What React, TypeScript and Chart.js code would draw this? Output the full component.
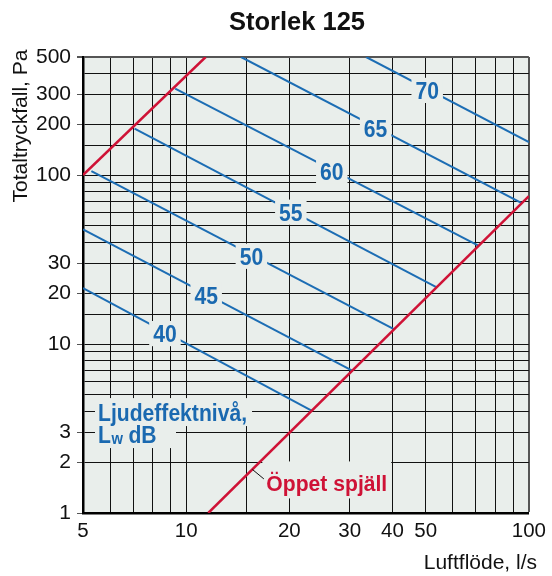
import React, { useEffect, useRef } from "react";
import { Chart, registerables } from "chart.js";
Chart.register(...registerables);

// Sound power level lines (Lw dB): start and end points (flow l/s, pressure Pa)
const levels = [40, 45, 50, 55, 60, 65, 70];
const startFlow = [5, 5, 5.29, 7.07, 9.29, 14.46, 33.5];
const startPressure = [21.4, 47.7, 105.5, 188.6, 325, 500, 500];
const endFlow = [23.3, 30.5, 40.5, 53.5, 71.2, 95, 100];
const endPressure = [4.02, 6.96, 12.2, 21.8, 38.2, 68.5, 157];
const labelFlow = [8.67, 11.44, 15.5, 20.2, 26.6, 35.7, 50.5];

// Damper limit lines
const maxFlow = [5, 11.4];
const maxPressure = [100, 500];
const openFlow = [11.6, 100];
const openPressure = [1, 75];

const xTickLabels = [5, 10, 20, 30, 40, 50, 100];
const yTickLabels = [1, 2, 3, 10, 20, 30, 100, 200, 300, 500];

const TITLE = "Storlek 125";
const X_TITLE = "Luftflöde, l/s";
const Y_TITLE = "Totaltryckfall, Pa";
const LW_LINE1 = "Ljudeffektnivå,";
const OPEN_LABEL = "Öppet spjäll";

const FONT = '"Liberation Sans", Arial, Helvetica, sans-serif';
const BLUE = "#1c6db4";
const BLUE_TEXT = "#1a69b0";
const RED = "#cf1236";
const PLOT_BG = "#e9eeeb";

const isIn = (arr: number[], v: number) => arr.some((t) => Math.abs(t - v) < 1e-6);

function interpLog(x0: number, y0: number, x1: number, y1: number, x: number) {
  const t = Math.log(x / x0) / Math.log(x1 / x0);
  return Math.exp(Math.log(y0) + t * Math.log(y1 / y0));
}

function drawText(
  ctx: CanvasRenderingContext2D,
  text: string,
  x: number,
  y: number,
  font: string,
  color: string,
  align: CanvasTextAlign,
  scaleX = 1
) {
  ctx.save();
  ctx.font = font;
  ctx.fillStyle = color;
  ctx.textAlign = align;
  ctx.textBaseline = "alphabetic";
  ctx.translate(x, y);
  ctx.scale(scaleX, 1);
  ctx.fillText(text, 0, 0);
  ctx.restore();
}

const bgPlugin = {
  id: "bgPlugin",
  beforeDraw(chart: any) {
    const { ctx, chartArea: a } = chart;
    ctx.save();
    ctx.fillStyle = "#ffffff";
    ctx.fillRect(0, 0, chart.width, chart.height);
    ctx.fillStyle = PLOT_BG;
    ctx.fillRect(a.left, a.top, a.right - a.left, a.bottom - a.top);
    ctx.restore();
  },
};

const annPlugin = {
  id: "annPlugin",
  afterDraw(chart: any) {
    const { ctx } = chart;
    const xs = chart.scales.x;
    const ys = chart.scales.y;

    // Level labels
    const numFont = `bold 24px ${FONT}`;
    const sx = 0.88;
    const cap = 17.2;
    levels.forEach((lv, i) => {
      const f = labelFlow[i];
      const p = interpLog(startFlow[i], startPressure[i], endFlow[i], endPressure[i], f);
      const px = xs.getPixelForValue(f);
      const py = ys.getPixelForValue(p) + 1.5;
      ctx.save();
      ctx.font = numFont;
      const w = ctx.measureText(String(lv)).width * sx;
      ctx.fillStyle = PLOT_BG;
      ctx.fillRect(px - w / 2 - 4, py - cap / 2 - 4, w + 8, cap + 8);
      ctx.restore();
      drawText(ctx, String(lv), px, py + cap / 2, numFont, BLUE_TEXT, "center", sx);
    });

    // Ljudeffektnivå label
    const lx = xs.getPixelForValue(5.53);
    const lb = ys.getPixelForValue(3.5);
    ctx.save();
    ctx.font = numFont;
    const w1 = ctx.measureText(LW_LINE1).width * sx;
    ctx.fillStyle = PLOT_BG;
    ctx.fillRect(lx - 3, lb - 23, w1 + 8, 28);
    ctx.fillRect(lx - 3, lb + 4, 81, 23);
    ctx.restore();
    drawText(ctx, LW_LINE1, lx, lb, numFont, BLUE_TEXT, "left", sx);
    const lb2 = lb + 21.5;
    drawText(ctx, "L", lx, lb2, numFont, BLUE_TEXT, "left", sx);
    ctx.save();
    ctx.font = numFont;
    const wL = ctx.measureText("L").width * sx;
    ctx.restore();
    drawText(ctx, "w", lx + wL + 0.5, lb2 + 1, `bold 16px ${FONT}`, BLUE_TEXT, "left", 0.92);
    drawText(ctx, "dB", lx + wL + 17.5, lb2, numFont, BLUE_TEXT, "left", sx);

    // Öppet spjäll label with leader
    const af = 15.6;
    const ap = interpLog(openFlow[0], openPressure[0], openFlow[1], openPressure[1], af);
    const ax = xs.getPixelForValue(af);
    const ay = ys.getPixelForValue(ap);
    const oFont = `bold 22px ${FONT}`;
    ctx.save();
    ctx.font = oFont;
    const wo = ctx.measureText(OPEN_LABEL).width * 0.96;
    ctx.fillStyle = PLOT_BG;
    ctx.fillRect(ax + 10, ay - 8, wo + 8, 37);
    ctx.strokeStyle = "#111";
    ctx.lineWidth = 1;
    ctx.beginPath();
    ctx.moveTo(ax, ay);
    ctx.lineTo(ax + 11.5, ay + 9.5);
    ctx.stroke();
    ctx.restore();
    drawText(ctx, OPEN_LABEL, ax + 14, ay + 22, oFont, RED, "left", 0.96);

    // Title
    drawText(ctx, TITLE, 297, 29.5, `bold 25.5px ${FONT}`, "#111", "center");

    // X axis title
    drawText(ctx, X_TITLE, 537, 568.5, `21px ${FONT}`, "#111", "right");

    // Y axis title
    ctx.save();
    ctx.translate(26.5, 126);
    ctx.rotate(-Math.PI / 2);
    ctx.font = `21px ${FONT}`;
    ctx.fillStyle = "#111";
    ctx.textAlign = "center";
    ctx.textBaseline = "alphabetic";
    ctx.fillText(Y_TITLE, 0, 0);
    ctx.restore();
  },
};

export default function App() {
  const ref = useRef<HTMLCanvasElement>(null);

  useEffect(() => {
    if (!ref.current) return;
    const datasets: any[] = [
      {
        label: "max",
        data: maxFlow.map((x, i) => ({ x, y: maxPressure[i] })),
        borderColor: RED,
        borderWidth: 2.5,
      },
      {
        label: "open",
        data: openFlow.map((x, i) => ({ x, y: openPressure[i] })),
        borderColor: RED,
        borderWidth: 2.5,
      },
      ...levels.map((lv, i) => ({
        label: String(lv),
        data: [
          { x: startFlow[i], y: startPressure[i] },
          { x: endFlow[i], y: endPressure[i] },
        ],
        borderColor: BLUE,
        borderWidth: 2,
      })),
    ];

    const chart = new Chart(ref.current, {
      type: "scatter",
      data: { datasets },
      options: {
        responsive: false,
        animation: false,
        showLine: true,
        elements: { point: { radius: 0 }, line: { tension: 0 } },
        layout: { padding: { top: 57, right: 22, left: 0, bottom: 0 } },
        plugins: {
          legend: { display: false },
          tooltip: { enabled: false },
          title: { display: false },
        },
        scales: {
          x: {
            type: "logarithmic",
            min: 5,
            max: 100,
            afterFit: (s: any) => {
              s.height = 63;
            },
            ticks: {
              autoSkip: false,
              maxRotation: 0,
              color: "#111",
              padding: 6,
              font: { family: FONT, size: 20.5 },
              callback: (v: any) => (isIn(xTickLabels, Number(v)) ? String(Number(v)) : ""),
            },
            grid: {
              drawTicks: false,
              color: (c: any) => (c.tick && Math.abs(c.tick.value - 100) < 1e-6 ? "#555" : "#111"),
              lineWidth: (c: any) => (c.tick && Math.abs(c.tick.value - 100) < 1e-6 ? 2 : 1),
            },
            border: { display: true, color: "#000", width: 2.5 },
          },
          y: {
            type: "logarithmic",
            min: 1,
            max: 500,
            afterFit: (s: any) => {
              s.width = 83;
            },
            ticks: {
              autoSkip: false,
              color: "#111",
              padding: 6,
              font: { family: FONT, size: 21 },
              callback: (v: any) => (isIn(yTickLabels, Number(v)) ? String(Number(v)) : ""),
            },
            grid: {
              drawTicks: true,
              tickLength: 6,
              tickColor: (c: any) => (c.tick && isIn(yTickLabels, c.tick.value) ? "#555" : "rgba(0,0,0,0)"),
              color: (c: any) => (c.tick && Math.abs(c.tick.value - 500) < 1e-6 ? "#555" : "#111"),
              lineWidth: (c: any) => (c.tick && Math.abs(c.tick.value - 500) < 1e-6 ? 2 : 1),
            },
            border: { display: true, color: "#000", width: 2.5 },
          },
        },
      } as any,
      plugins: [bgPlugin, annPlugin],
    });
    return () => chart.destroy();
  }, []);

  return (
    <div style={{ position: "fixed", left: 0, top: 0, width: 552, height: 576, background: "#fff" }}>
      <canvas ref={ref} width={552} height={576} style={{ display: "block" }} />
    </div>
  );
}
